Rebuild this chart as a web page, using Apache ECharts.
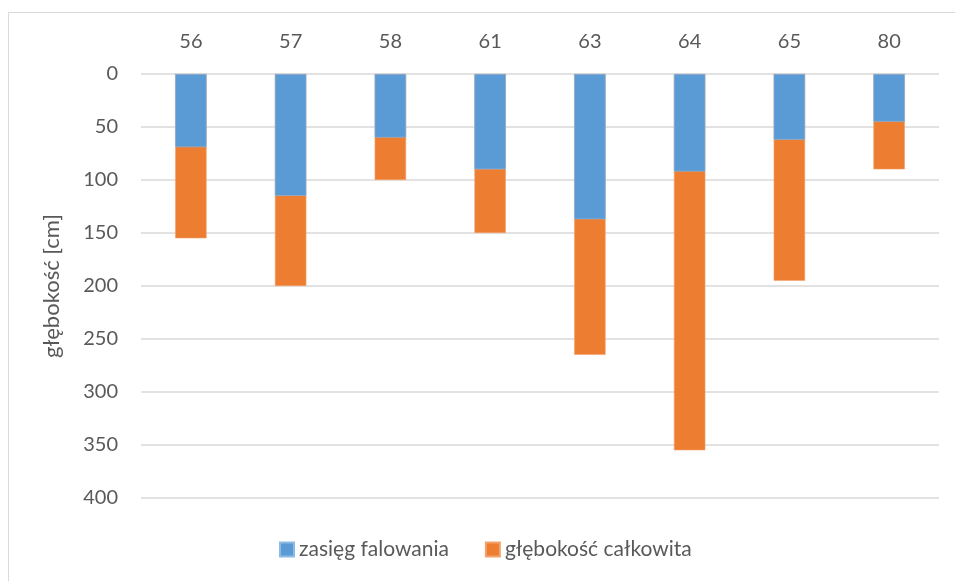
<!DOCTYPE html>
<html>
<head>
<meta charset="utf-8">
<script src="https://cdn.jsdelivr.net/npm/echarts@6/dist/echarts.min.js"></script>
<style>
  html, body { margin: 0; padding: 0; background: #ffffff; }
  #chart { width: 955px; height: 581px; }
</style>
</head>
<body>
<div id="chart"></div>
<script>
// Measurement stations (columns) and depths in cm
const stations = ['56', '57', '58', '61', '63', '64', '65', '80'];
const waveRange = [69, 115, 60, 90, 137, 92, 62, 45];      // zasięg falowania
const totalDepth = [155, 200, 100, 150, 265, 355, 195, 90]; // głębokość całkowita
const depthTicks = [0, 50, 100, 150, 200, 250, 300, 350, 400];

const textColor = '#595959';
const fontFamily = 'Lato, "Liberation Sans", sans-serif';

const chart = echarts.init(document.getElementById('chart'), null, { renderer: 'canvas' });

chart.setOption({
  animation: false,
  backgroundColor: '#ffffff',
  textStyle: { fontFamily: fontFamily, color: textColor },
  graphic: [{
    type: 'rect',
    shape: { x: 8.5, y: 12.5, width: 960, height: 600 },
    style: { fill: 'none', stroke: '#d9d9d9', lineWidth: 1 },
    silent: true,
    z: -1
  }],
  grid: { left: 141, right: 16, top: 74, bottom: 83, containLabel: false },
  legend: {
    left: 279,
    top: 539,
    padding: 0,
    itemWidth: 14,
    itemHeight: 14,
    itemGap: 36,
    icon: 'rect',
    data: ['zasięg falowania', 'głębokość całkowita'],
    textStyle: { fontSize: 21, color: textColor, fontFamily: fontFamily }
  },
  xAxis: {
    type: 'category',
    position: 'top',
    data: stations,
    axisLine: { show: false },
    axisTick: { show: false },
    axisLabel: { fontSize: 20, color: textColor, margin: 22, fontFamily: fontFamily }
  },
  yAxis: {
    type: 'value',
    inverse: true,
    min: 0,
    max: 400,
    interval: 50,
    name: 'głębokość [cm]',
    nameLocation: 'middle',
    nameGap: 78,
    nameTextStyle: { fontSize: 22, color: textColor, fontFamily: fontFamily },
    axisLine: { show: false },
    axisTick: { show: false },
    axisLabel: {
      fontSize: 20, color: textColor, margin: 23, fontFamily: fontFamily,
      formatter: function (v) { return depthTicks.indexOf(v) >= 0 ? String(v) : ''; }
    },
    splitLine: { lineStyle: { color: '#d9d9d9', width: 1.5 } }
  },
  series: [
    {
      name: 'głębokość całkowita',
      type: 'bar',
      data: totalDepth,
      barWidth: '31.5%',
      barGap: '-100%',
      itemStyle: { color: '#ED7D31', borderColor: '#f3a36f', borderWidth: 0.6 },
      z: 2
    },
    {
      name: 'zasięg falowania',
      type: 'bar',
      data: waveRange,
      barWidth: '31.5%',
      barGap: '-100%',
      itemStyle: { color: '#5B9BD5', borderColor: '#8dbbe3', borderWidth: 0.6 },
      z: 3
    }
  ]
});
</script>
</body>
</html>
